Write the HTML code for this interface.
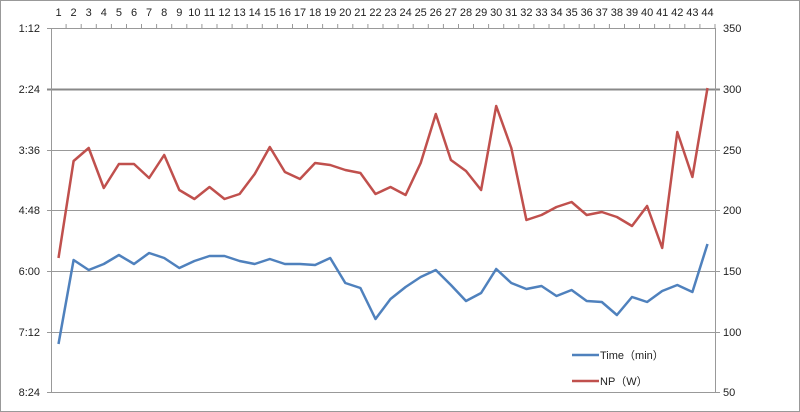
<!DOCTYPE html>
<html><head><style>
body{margin:0;background:#fff;}
svg{display:block;font-family:"Liberation Sans",sans-serif;}
</style></head><body>
<svg width="800" height="412" xmlns="http://www.w3.org/2000/svg">
<rect x="0.5" y="0.5" width="799" height="411" fill="#fff" stroke="#999"/>
<g stroke="#999" stroke-width="1">
<line x1="47" y1="28.5" x2="715" y2="28.5"/>
<line x1="47" y1="89.5" x2="720" y2="89.5" stroke="#888" stroke-width="2"/>
<line x1="47" y1="150.5" x2="720" y2="150.5"/>
<line x1="47" y1="210.5" x2="720" y2="210.5"/>
<line x1="47" y1="271.5" x2="720" y2="271.5"/>
<line x1="47" y1="332.5" x2="720" y2="332.5"/>
<line x1="47" y1="392.5" x2="720" y2="392.5"/>
<line x1="51.5" y1="28" x2="51.5" y2="393"/>
<line x1="715.5" y1="28" x2="715.5" y2="393"/>
</g>
<g id="ticks" stroke="#999"></g>
<g font-size="11" fill="#222" text-anchor="end">
<text x="40" y="32">1:12</text><text x="40" y="93">2:24</text><text x="40" y="154">3:36</text>
<text x="40" y="214">4:48</text><text x="40" y="275">6:00</text><text x="40" y="336">7:12</text><text x="40" y="396">8:24</text>
</g>
<g font-size="11" fill="#222">
<text x="723" y="32">350</text><text x="723" y="93">300</text><text x="723" y="154">250</text>
<text x="723" y="214">200</text><text x="723" y="275">150</text><text x="723" y="336">100</text><text x="723" y="396">50</text>
</g>
<g id="xl" font-size="11" fill="#222" text-anchor="middle"></g>
<polyline id="red" fill="none" stroke="#C0504D" stroke-width="2.5" stroke-linejoin="round"/>
<polyline id="blue" fill="none" stroke="#4F81BD" stroke-width="2.5" stroke-linejoin="round"/>
<line x1="572" y1="355" x2="599" y2="355" stroke="#4F81BD" stroke-width="2.5"/>
<text x="600" y="359" font-size="11" fill="#222">Time（min）</text>
<line x1="572" y1="381" x2="599" y2="381" stroke="#C0504D" stroke-width="2.5"/>
<text x="600" y="385" font-size="11" fill="#222">NP（W）</text>
</svg>
<script>
var R=[258,161,148,188,164,164,178,155,190,199,187,199,194,174,147,172,179,163,165,170,173,194,187,195,163,114,160,171,190,106,148,220,215,207,202,215,212,217,226,206,248,132,177,88];
var B=[344,260,270,264,255,264,253,258,268,261,256,256,261,264,259,264,264,265,258,283,288,319,299,287,277,270,285,301,293,269,283,289,286,296,290,301,302,315,297,302,291,285,292,244];
var w=664/44,r=[],b=[],xl='',tk='';
for(var i=0;i<44;i++){var x=51+(i+0.5)*w;r.push(x.toFixed(1)+','+R[i]);b.push(x.toFixed(1)+','+B[i]);
xl+='<text x="'+x.toFixed(1)+'" y="16">'+(i+1)+'</text>';
var tx=(51+(i+1)*w).toFixed(1);tk+='<line x1="'+tx+'" y1="24" x2="'+tx+'" y2="28"/>';}
document.getElementById('red').setAttribute('points',r.join(' '));
document.getElementById('blue').setAttribute('points',b.join(' '));
document.getElementById('xl').innerHTML=xl;
document.getElementById('ticks').innerHTML=tk;
</script>
</body></html>
